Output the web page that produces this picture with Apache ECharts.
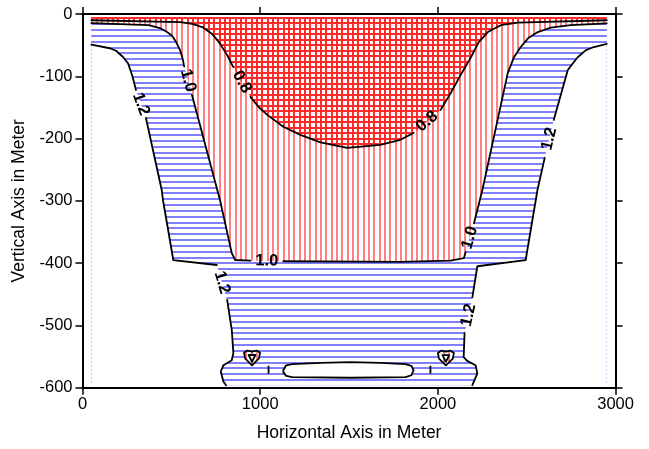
<!DOCTYPE html>
<html><head><meta charset="utf-8">
<script src="https://cdn.jsdelivr.net/npm/echarts@6/dist/echarts.min.js"></script>
<style>html,body{margin:0;padding:0;background:#fff}#c{width:649px;height:449px}</style>
</head><body><div id="c"></div>
<script>
// ---- data (metres) ----
const xTickValues = [0, 1000, 2000, 3000];
const yTickValues = [-600, -500, -400, -300, -200, -100, 0];
const domainX = [50, 2950];
const domainY = [-5, -595];
const levels = ['0.8', '1.0', '1.2', '1.2'];

// contour lines, split into pieces; labels sit in the gaps
const contour08 = [
  [[50,-10],[549,-13],[617,-16],[674,-21],[730,-32],[775,-48],[814,-66],[848,-85]],
  [[945,-133],[990,-149],[1040,-162],[1130,-181],[1226,-194],[1339,-206],[1490,-215],[1676,-210],[1789,-202],[1863,-191]],
  [[2015,-154],[2072,-127],[2128,-98],[2185,-70],[2230,-45],[2281,-29],[2354,-18],[2450,-14],[2950,-10]]
];
const contour10 = [
  [[50,-14.5],[372,-18],[436,-22.5],[476,-29],[504,-35],[527,-45],[549,-58],[563,-71],[572,-84]],
  [[616,-130],[774,-299],[840,-384],[859,-395],[944,-396]],
  [[1130,-397],[1789,-398],[2071,-396],[2146,-392],[2156,-382]],
  [[2203,-336],[2250,-283],[2393,-95],[2427,-70],[2466,-53],[2511,-38],[2562,-29],[2635,-22],[2748,-18],[2950,-15]]
];
const contour12Left = [
  [[50,-49],[154,-55],[189,-59],[228,-69],[256,-79],[279,-98],[301,-122]],
  [[357,-167],[446,-283],[453,-299],[511,-395],[756,-403]],
  [[814,-459],[840,-507],[849,-544],[840,-556],[793,-564],[778,-574],[793,-590],[808,-596]]
];
const contour12Right = [
  [[2950,-48],[2878,-53],[2833,-58],[2788,-69],[2760,-79],[2731,-90],[2652,-170]],
  [[2601,-231],[2560,-283],[2494,-395],[2222,-405],[2194,-455]],
  [[2150,-512],[2145,-551],[2165,-557],[2212,-564],[2222,-577],[2194,-596]]
];
const pill = [[1130,-572],[1146,-564],[1180,-562],[1338,-560],[1508,-559],[1677,-560],[1818,-562],[1851,-565],[1863,-572],[1851,-580],[1818,-583],[1508,-584],[1180,-583],[1146,-581],[1130,-575]];
const shieldLeft = [[909,-544],[928,-540.4],[954,-542],[980,-540.4],[999,-544],[993,-553],[954,-564],[915,-553]];
const shieldLeftInner = [[935,-547.5],[973,-547.5],[954,-558.5]];
const shieldRight = [[2000,-544.2],[2019,-540.6],[2045,-542.2],[2071,-540.6],[2090,-544.2],[2084,-553.2],[2045,-564.2],[2006,-553.2]];
const shieldRightInner = [[2026,-547.7],[2064,-547.7],[2045,-558.7]];
const tickMarks = [[[1047,-566],[1047,-576]], [[1958,-566],[1958,-576]]];

// ---- patterns ----
function pattern(w, h, draw) {
  const c = document.createElement('canvas'); c.width = w; c.height = h;
  const g = c.getContext('2d'); g.fillStyle = '#fff'; g.fillRect(0, 0, w, h); draw(g);
  return { image: c, repeat: 'repeat' };
}
const vPink = pattern(16, 11, g => { g.fillStyle = '#ff8080'; [0,5,11].forEach(x => g.fillRect(x, 0, 2, 11)); });
const hBlue = pattern(16, 35, g => { g.fillStyle = '#8080ff'; [0,6,12,17,23,29].forEach(y => g.fillRect(0, y, 16, 2)); });
const cross = pattern(16, 11, g => { g.fillStyle = '#ff2a2a'; [0,5,11].forEach(x => g.fillRect(x, 0, 2, 11)); [0,6].forEach(y => g.fillRect(0, y, 16, 2)); });

const flat = segs => segs.reduce((a, s) => a.concat(s), []);
const regionBlue = [[domainX[0],domainY[0]],[domainX[1],domainY[0]]].concat(flat(contour12Right), flat(contour12Left).reverse());
const region10 = [[domainX[0],domainY[0]]].concat(flat(contour10), [[domainX[1],domainY[0]]]);
const region08 = [[domainX[0],domainY[0]]].concat(flat(contour08), [[domainX[1],domainY[0]]]);

const fills = [
  { pts: regionBlue, fill: hBlue },
  { pts: region10, fill: vPink },
  { pts: region08, fill: cross },
  { pts: pill, fill: '#fff', stroke: '#000' },
  { pts: shieldLeft, fill: vPink, stroke: '#000' },
  { pts: shieldLeftInner, fill: '#fff', stroke: '#000' },
  { pts: shieldRight, fill: vPink, stroke: '#000' },
  { pts: shieldRightInner, fill: '#fff', stroke: '#000' }
];
const contours = [contour08, contour10, contour12Left, contour12Right];
const lines = flat(contours).concat(tickMarks);
const borderLines = [[[domainX[0],domainY[0]],[domainX[0],domainY[1]]],[[domainX[1],domainY[0]],[domainX[1],domainY[1]]]];
const labels = [];
contours.forEach((c, ci) => {
  for (let i = 0; i < c.length - 1; i++) {
    labels.push({ a: c[i][c[i].length - 1], b: c[i + 1][0], text: levels[ci] });
  }
});

const FONT = '"Liberation Sans", Arial, Helvetica, sans-serif';
const chart = echarts.init(document.getElementById('c'), null, { renderer: 'canvas' });
const axisCommon = {
  type: 'value',
  axisLine: { onZero: false, lineStyle: { color: '#000', width: 2 } },
  axisTick: { inside: false, length: 7, lineStyle: { color: '#000', width: 1.5 } },
  splitLine: { show: false },
  axisLabel: { color: '#000', fontSize: 16.5, fontFamily: FONT, formatter: v => String(v) }
};
chart.setOption({
  animation: false,
  grid: { left: 82.5, right: 33.4, top: 14, bottom: 61.3 },
  xAxis: [
    Object.assign({}, axisCommon, { position: 'bottom', min: xTickValues[0], max: xTickValues[xTickValues.length-1], interval: 1000,
      name: 'Horizontal Axis in Meter', nameLocation: 'middle', nameGap: 36,
      nameTextStyle: { color: '#000', fontSize: 17.5, fontFamily: FONT },
      axisLabel: Object.assign({}, axisCommon.axisLabel, { margin: 8 }) }),
    Object.assign({}, axisCommon, { position: 'top', min: xTickValues[0], max: xTickValues[xTickValues.length-1], interval: 1000, axisLabel: { show: false } })
  ],
  yAxis: [
    Object.assign({}, axisCommon, { position: 'left', min: yTickValues[0], max: yTickValues[yTickValues.length-1], interval: 100,
      name: 'Vertical Axis in Meter', nameLocation: 'middle', nameGap: 54,
      nameTextStyle: { color: '#000', fontSize: 17.5, fontFamily: FONT },
      axisLabel: Object.assign({}, axisCommon.axisLabel, { margin: 10 }) }),
    Object.assign({}, axisCommon, { position: 'right', min: yTickValues[0], max: yTickValues[yTickValues.length-1], interval: 100, axisLabel: { show: false } })
  ],
  series: [
    { type: 'custom', z: 1, silent: true, data: borderLines.map((_, i) => [i]),
      renderItem: (p, api) => ({ type: 'polyline', shape: { points: borderLines[p.dataIndex].map(q => api.coord(q)) },
        style: { stroke: '#c8c8f0', lineWidth: 1, lineDash: [2, 2], fill: null } }) },
    { type: 'custom', z: 2, silent: true, data: fills.map((_, i) => [i]),
      renderItem: (p, api) => { const f = fills[p.dataIndex];
        return { type: 'polygon', shape: { points: f.pts.map(q => api.coord(q)) },
          style: { fill: f.fill, stroke: f.stroke || null, lineWidth: 1.8, lineJoin: 'round' } }; } },
    { type: 'custom', z: 3, silent: true, data: lines.map((_, i) => [i]),
      renderItem: (p, api) => ({ type: 'polyline', shape: { points: lines[p.dataIndex].map(q => api.coord(q)) },
        style: { stroke: '#000', lineWidth: 1.8, fill: null, lineJoin: 'round', lineCap: 'round' } }) },
    { type: 'custom', z: 4, silent: true, data: labels.map((_, i) => [i]),
      renderItem: (p, api) => { const L = labels[p.dataIndex];
        let a = api.coord(L.a), b = api.coord(L.b);
        if (b[0] < a[0]) { const t = a; a = b; b = t; }
        const ang = Math.atan2(b[1] - a[1], b[0] - a[0]);
        return { type: 'text', x: (a[0] + b[0]) / 2, y: (a[1] + b[1]) / 2, rotation: -ang,
          style: { text: L.text, fill: '#000', font: 'bold 16.5px ' + FONT, align: 'center', verticalAlign: 'middle' } }; } }
  ]
});
</script></body></html>
